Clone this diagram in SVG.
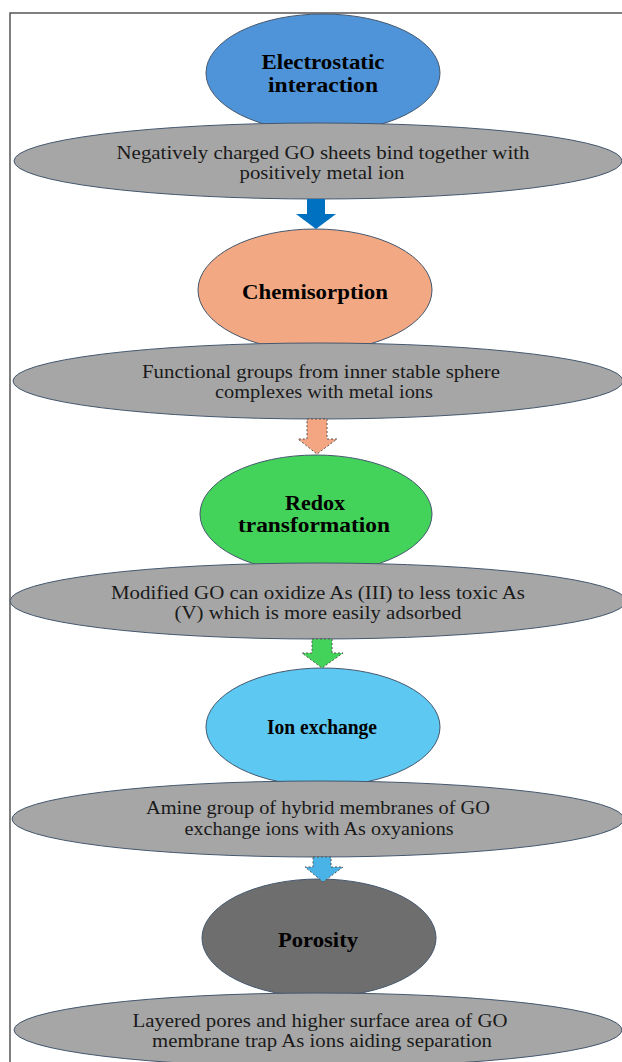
<svg xmlns="http://www.w3.org/2000/svg" width="622" height="1062" viewBox="0 0 622 1062">
<style>
.frame{fill:#ffffff;stroke:#555555;stroke-width:1.5}
.el{stroke:#44576e;stroke-width:1}
.gray{fill:#a6a6a6}
.title{font-family:"Liberation Serif","Times New Roman",serif;font-weight:bold;font-size:21px;fill:#000;text-anchor:middle}
.desc{font-family:"Liberation Serif","Times New Roman",serif;font-size:19px;fill:#1a1a1a;text-anchor:middle}
.arr{stroke:#555555;stroke-width:1;stroke-dasharray:2 2}
</style>
<rect class="frame" x="10" y="13" width="640" height="1080"/>
<g id="node-electrostatic">
<ellipse class="el" cx="323" cy="73" rx="117" ry="59" fill="#4f94d9"/>
<text class="title" x="323" y="69" textLength="123" lengthAdjust="spacingAndGlyphs">Electrostatic</text>
<text class="title" x="323" y="92" textLength="110" lengthAdjust="spacingAndGlyphs">interaction</text>
</g>
<g id="node-desc1">
<ellipse class="el gray" cx="318" cy="161" rx="304" ry="38"/>
<text class="desc" x="323" y="159" textLength="413" lengthAdjust="spacingAndGlyphs">Negatively charged GO sheets bind together with</text>
<text class="desc" x="322" y="179" textLength="165" lengthAdjust="spacingAndGlyphs">positively metal ion</text>
</g>
<g id="node-chemisorption">
<ellipse class="el" cx="315" cy="290" rx="117" ry="61" fill="#f2a983"/>
<text class="title" x="315" y="299" textLength="146" lengthAdjust="spacingAndGlyphs">Chemisorption</text>
</g>
<g id="node-desc2">
<ellipse class="el gray" cx="318" cy="381" rx="305" ry="38"/>
<text class="desc" x="321" y="378" textLength="358" lengthAdjust="spacingAndGlyphs">Functional groups from inner stable sphere</text>
<text class="desc" x="324" y="398" textLength="218" lengthAdjust="spacingAndGlyphs">complexes with metal ions</text>
</g>
<g id="node-redox">
<ellipse class="el" cx="316" cy="514" rx="116" ry="59" fill="#44d35a"/>
<text class="title" x="315" y="510" textLength="60" lengthAdjust="spacingAndGlyphs">Redox</text>
<text class="title" x="314" y="532" textLength="152" lengthAdjust="spacingAndGlyphs">transformation</text>
</g>
<g id="node-desc3">
<ellipse class="el gray" cx="318" cy="601" rx="308" ry="38"/>
<text class="desc" x="318" y="599" textLength="414" lengthAdjust="spacingAndGlyphs">Modified GO can oxidize As (III) to less toxic As</text>
<text class="desc" x="318" y="619" textLength="287" lengthAdjust="spacingAndGlyphs">(V) which is more easily adsorbed</text>
</g>
<g id="node-ion">
<ellipse class="el" cx="323" cy="727" rx="117" ry="59" fill="#5dc9f2"/>
<text class="title" x="322" y="734" style="font-size:20px" textLength="110" lengthAdjust="spacingAndGlyphs">Ion exchange</text>
</g>
<g id="node-desc4">
<ellipse class="el gray" cx="318" cy="819" rx="306" ry="38"/>
<text class="desc" x="318" y="814" textLength="344" lengthAdjust="spacingAndGlyphs">Amine group of hybrid membranes of GO</text>
<text class="desc" x="319" y="835" textLength="269" lengthAdjust="spacingAndGlyphs">exchange ions with As oxyanions</text>
</g>
<g id="node-porosity">
<ellipse class="el" cx="319" cy="938" rx="117" ry="59" fill="#6e6e6e"/>
<text class="title" x="318" y="947" textLength="80" lengthAdjust="spacingAndGlyphs">Porosity</text>
</g>
<g id="node-desc5">
<ellipse class="el gray" cx="318" cy="1030" rx="304" ry="37"/>
<text class="desc" x="320" y="1027" textLength="375" lengthAdjust="spacingAndGlyphs">Layered pores and higher surface area of GO</text>
<text class="desc" x="322" y="1047" textLength="340" lengthAdjust="spacingAndGlyphs">membrane trap As ions aiding separation</text>
</g>
<g id="connectors">
<path d="M307,199 L325,199 L325,214 L336,214 L316,229 L296,214 L307,214 Z" fill="#0070c0"/>
<path class="arr" d="M307,419 L327,419 L327,439 L337,439 L317,454 L298,439 L307,439 Z" fill="#f4a582"/>
<path class="arr" d="M312,639 L332,639 L332,653 L343,653 L322,668 L302,653 L312,653 Z" fill="#44d35a"/>
<path class="arr" d="M313,857 L331,857 L331,867 L343,867 L323,882 L305,867 L313,867 Z" fill="#49b3e8"/>
</g>
</svg>
